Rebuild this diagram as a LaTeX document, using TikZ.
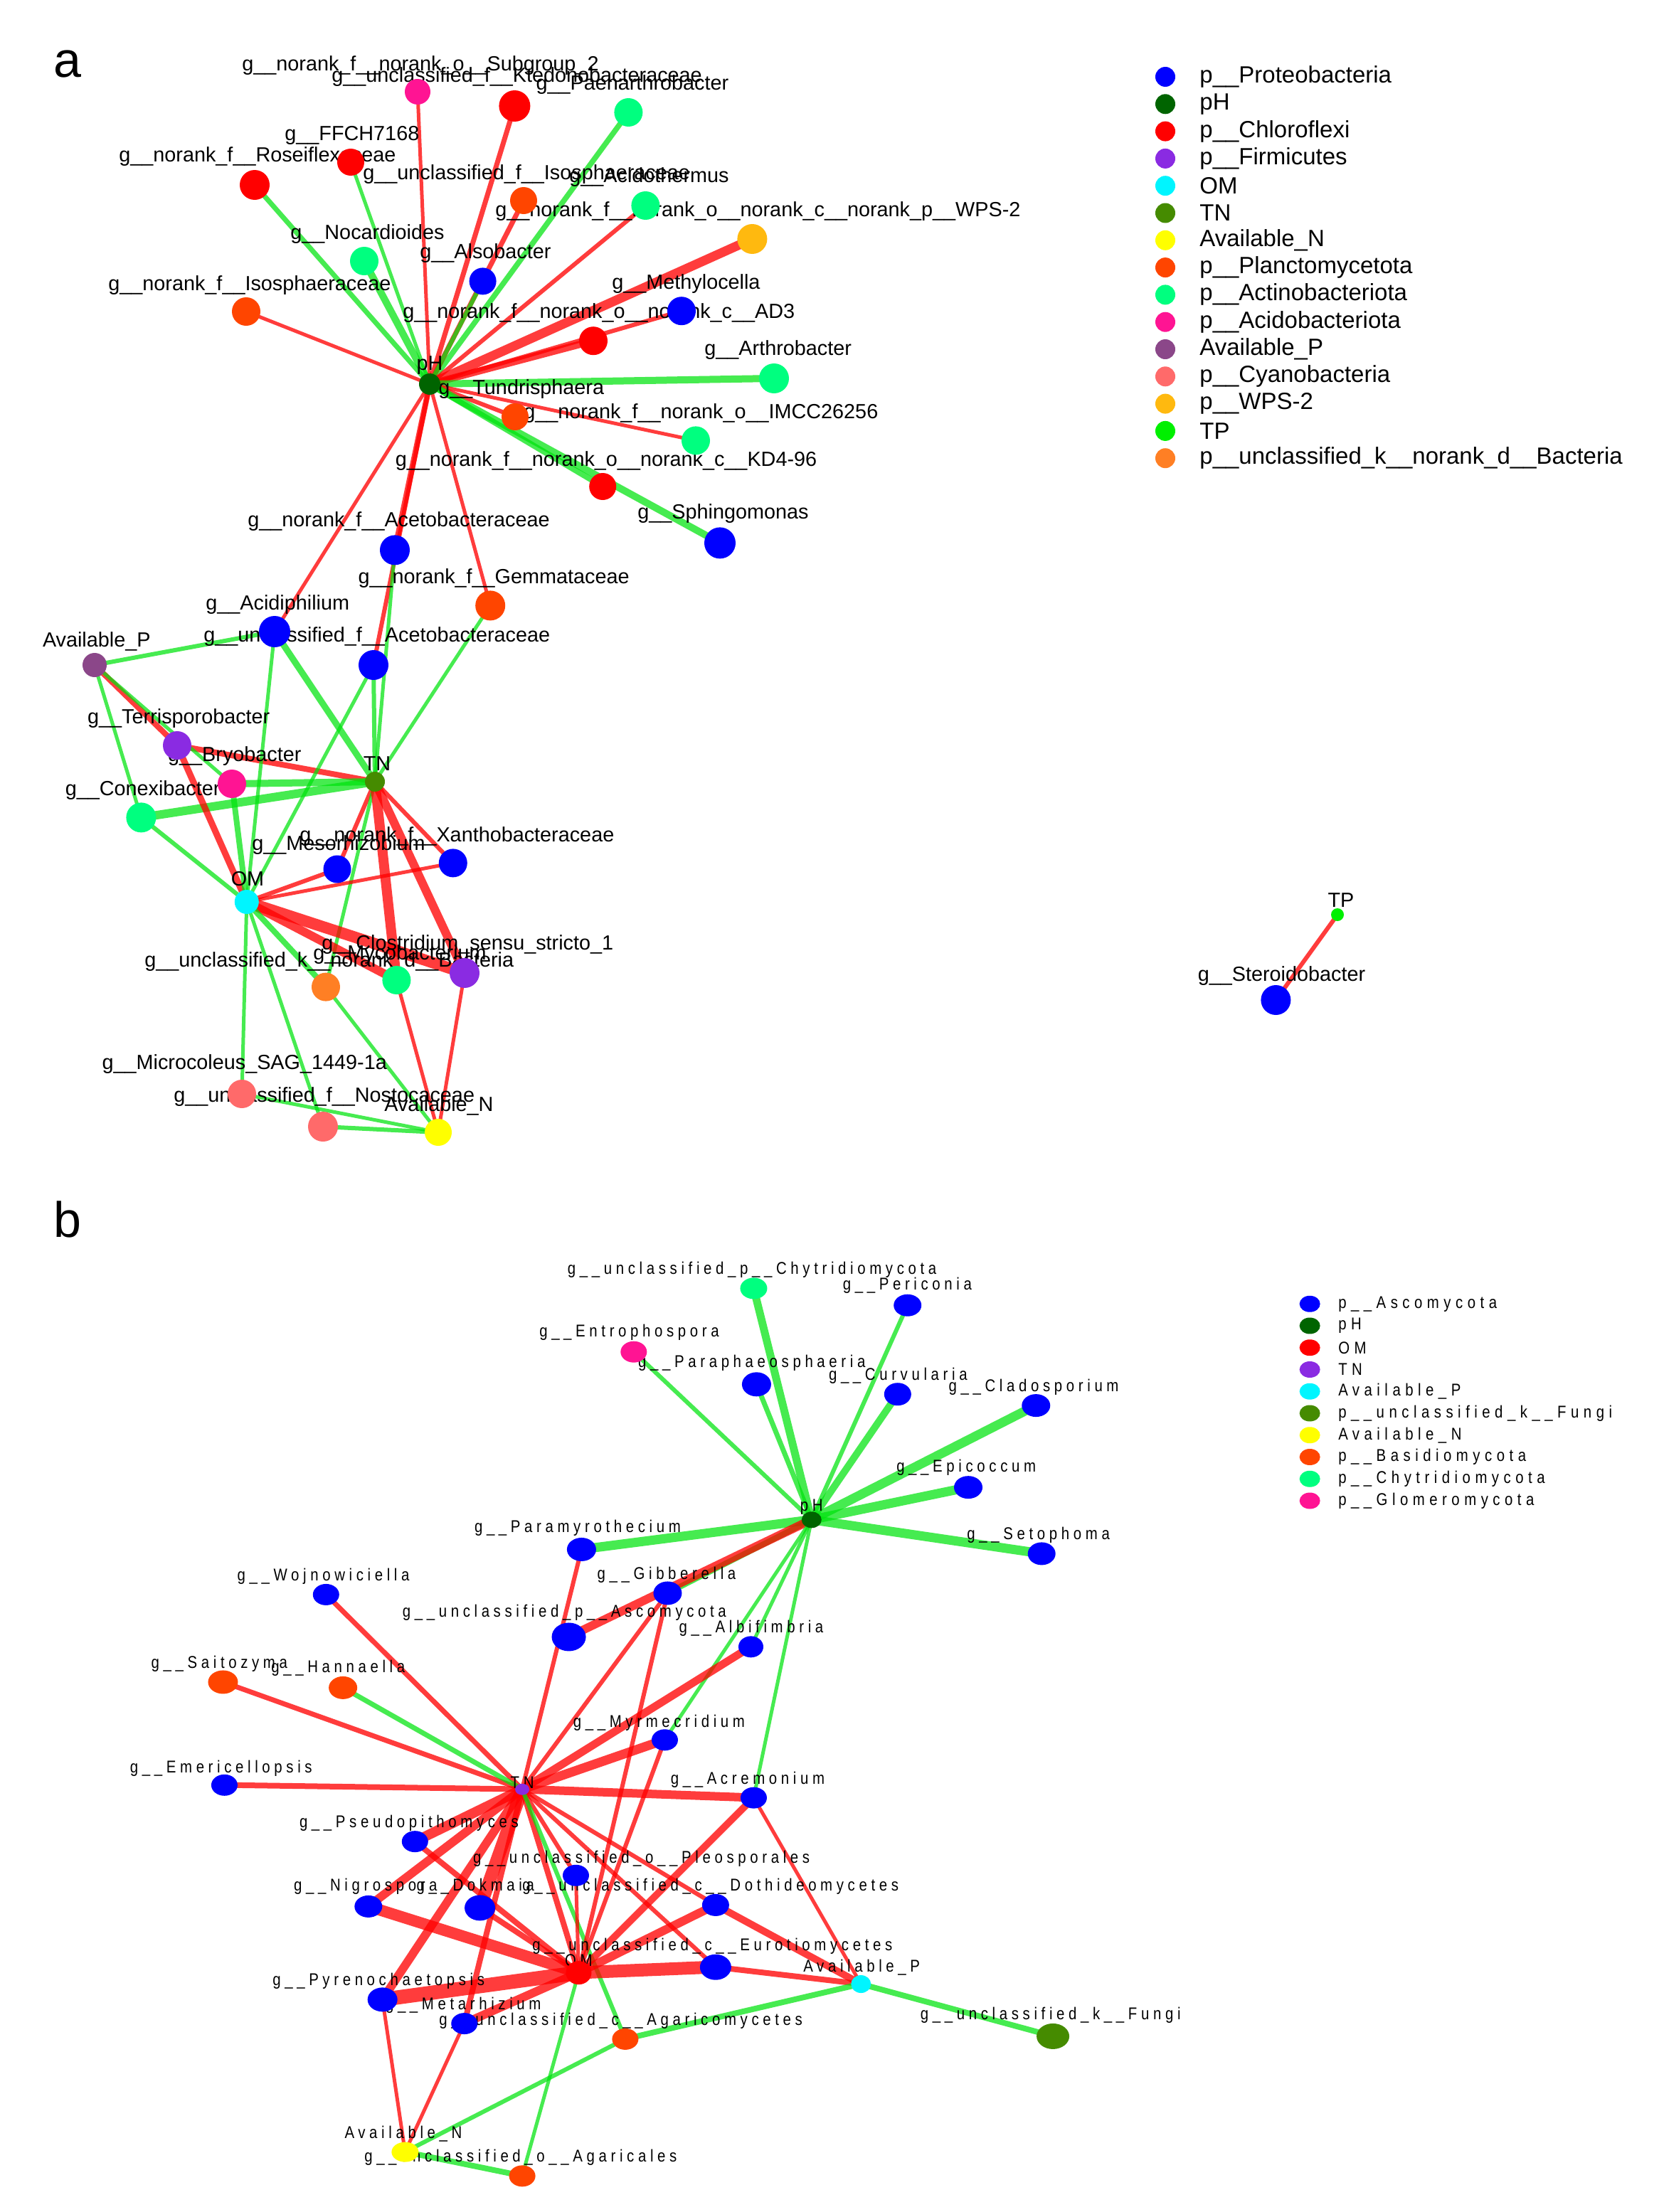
\documentclass[tikz,border=0pt]{standalone}
\usepackage{fontspec}
\setmainfont{Liberation Sans}
\newfontfamily\bfont[LetterSpace=23.5,FakeStretch=0.85]{Liberation Sans}
\newfontfamily\blegfont[LetterSpace=27,FakeStretch=0.85]{Liberation Sans}
\usetikzlibrary{shapes.geometric}
\pgfdeclarelayer{bg}\pgfdeclarelayer{fg}\pgfsetlayers{bg,main,fg}
\definecolor{cProt}{RGB}{0,0,255}
\definecolor{cpH}{RGB}{0,100,0}
\definecolor{cChlo}{RGB}{255,0,0}
\definecolor{cFirm}{RGB}{138,43,226}
\definecolor{cOM}{RGB}{0,245,255}
\definecolor{cTN}{RGB}{69,139,0}
\definecolor{cAvN}{RGB}{255,255,0}
\definecolor{cPlan}{RGB}{255,69,0}
\definecolor{cActi}{RGB}{0,255,127}
\definecolor{cAcido}{RGB}{255,20,147}
\definecolor{cAvP}{RGB}{139,71,137}
\definecolor{cCyan}{RGB}{255,106,106}
\definecolor{cWPS}{RGB}{255,185,15}
\definecolor{cTP}{RGB}{0,240,0}
\definecolor{cUBac}{RGB}{255,127,36}
\definecolor{eR}{RGB}{255,0,0}
\definecolor{eG}{RGB}{0,228,14}
\begin{document}
\catcode`\_=12
\begin{tikzpicture}[x=1pt,y=-1pt,
  nd/.style={circle,inner sep=0pt,minimum size=#1},
  eln/.style 2 args={ellipse,inner sep=0pt,minimum width=#1,minimum height=#2},
  lab/.style={anchor=west,inner sep=0pt,font=\fontsize{14.4}{16}\selectfont},
  labc/.style={anchor=center,inner sep=0pt,font=\fontsize{14.4}{16}\selectfont},
  blab/.style={anchor=west,inner sep=0pt,font=\bfont\fontsize{12}{14}\selectfont},
  blabc/.style={anchor=center,inner sep=0pt,font=\bfont\fontsize{12}{14}\selectfont},
  leg/.style={anchor=west,inner sep=0pt,font=\fontsize{16.5}{18}\selectfont},
  bleg/.style={anchor=west,inner sep=0pt,font=\blegfont\fontsize{12}{14}\selectfont},
  panel/.style={anchor=center,inner sep=0pt,font=\fontsize{35}{40}\selectfont},
  redE/.style={draw=eR,draw opacity=0.765,line width=#1},
  grnE/.style={draw=eG,draw opacity=0.725,line width=#1},
]
\useasboundingbox (0,0) rectangle (1165.5,1555);
\begin{pgfonlayer}{bg}
\fill[white] (0,0) rectangle (1165.5,1555);
\end{pgfonlayer}

%================ PANEL A =================
\node[panel] (la) at (47.6,45) {a};

\begin{pgfonlayer}{fg}
\node[nd=18pt,fill=cAcido] (Sub2) at (293.5,64.5) {};
\node[nd=22pt,fill=cChlo] (Kted) at (361.7,74.5) {};
\node[nd=20pt,fill=cActi] (Paen) at (441.7,79) {};
\node[nd=19pt,fill=cChlo] (FFCH) at (246.5,114) {};
\node[nd=21pt,fill=cChlo] (Rose) at (179,130) {};
\node[nd=19pt,fill=cPlan] (UIso) at (368,141) {};
\node[nd=20pt,fill=cActi] (Acit) at (453.7,144.5) {};
\node[nd=21pt,fill=cWPS] (WPS) at (528.7,168) {};
\node[nd=20pt,fill=cActi] (Noca) at (256,183.5) {};
\node[nd=19pt,fill=cProt] (Also) at (339.3,197.7) {};
\node[nd=20pt,fill=cPlan] (NIso) at (173,219) {};
\node[nd=20pt,fill=cProt] (Meth) at (479,218.6) {};
\node[nd=20pt,fill=cChlo] (AD3) at (417,239.6) {};
\node[nd=21pt,fill=cActi] (Arth) at (544,266) {};
\node[nd=15pt,fill=cpH] (pH) at (302,270) {};
\node[nd=19pt,fill=cPlan] (Tund) at (362,293) {};
\node[nd=20pt,fill=cActi] (IMCC) at (489,309.7) {};
\node[nd=19pt,fill=cChlo] (KD4) at (423.6,342) {};
\node[nd=22pt,fill=cProt] (Sphi) at (506,381.7) {};
\node[nd=21pt,fill=cProt] (NAce) at (277.5,386.7) {};
\node[nd=21pt,fill=cPlan] (Gemm) at (344.6,425.7) {};
\node[nd=22pt,fill=cProt] (Acid) at (193,444) {};
\node[nd=21pt,fill=cProt] (UAce) at (262.5,467.5) {};
\node[nd=17pt,fill=cAvP] (AvP) at (66.5,467.5) {};
\node[nd=20pt,fill=cFirm] (Terr) at (124.5,524) {};
\node[nd=20pt,fill=cAcido] (Bryo) at (163,551) {};
\node[nd=14pt,fill=cTN] (TN) at (263.5,549.5) {};
\node[nd=21pt,fill=cActi] (Conx) at (99.2,574.7) {};
\node[nd=19.5pt,fill=cProt] (Meso) at (237,611) {};
\node[nd=20pt,fill=cProt] (Xant) at (318.4,606.7) {};
\node[nd=17pt,fill=cOM] (OM) at (173.4,634) {};
\node[nd=21pt,fill=cFirm] (Clos) at (326.5,684) {};
\node[nd=20pt,fill=cActi] (Myco) at (278.7,689) {};
\node[nd=20pt,fill=cUBac] (UBac) at (229,693.8) {};
\node[nd=20pt,fill=cCyan] (Micr) at (170,769) {};
\node[nd=21pt,fill=cCyan] (Nost) at (227,792) {};
\node[nd=19pt,fill=cAvN] (AvN) at (308,796) {};
\node[nd=9pt,fill=cTP] (TP) at (940,643) {};
\node[nd=21pt,fill=cProt] (Ster) at (896.7,703) {};
\end{pgfonlayer}

\node[lab] (Sub2-l) at (170,46) {g__norank_f__norank_o__Subgroup_2};
\node[lab] (Kted-l) at (233,54) {g__unclassified_f__Ktedonobacteraceae};
\node[lab] (Paen-l) at (376.6,59.3) {g__Paenarthrobacter};
\node[lab] (FFCH-l) at (200,95) {g__FFCH7168};
\node[lab] (Rose-l) at (83.5,110) {g__norank_f__Roseiflexaceae};
\node[lab] (UIso-l) at (255,122.5) {g__unclassified_f__Isosphaeraceae};
\node[lab] (Acit-l) at (400,124.5) {g__Acidothermus};
\node[lab] (WPS-l) at (348,148.6) {g__norank_f__norank_o__norank_c__norank_p__WPS-2};
\node[lab] (Noca-l) at (204,164.6) {g__Nocardioides};
\node[lab] (Also-l) at (295,178) {g__Alsobacter};
\node[lab] (NIso-l) at (76,200.5) {g__norank_f__Isosphaeraceae};
\node[lab] (Meth-l) at (430,199.5) {g__Methylocella};
\node[lab] (AD3-l) at (283,220) {g__norank_f__norank_o__norank_c__AD3};
\node[lab] (Arth-l) at (495,246) {g__Arthrobacter};
\node[labc] (pH-l) at (302,257) {pH};
\node[lab] (Tund-l) at (308,273.6) {g__Tundrisphaera};
\node[lab] (IMCC-l) at (368,290.5) {g__norank_f__norank_o__IMCC26256};
\node[lab] (KD4-l) at (277.7,324) {g__norank_f__norank_o__norank_c__KD4-96};
\node[lab] (Sphi-l) at (448,361) {g__Sphingomonas};
\node[lab] (NAce-l) at (174,366.7) {g__norank_f__Acetobacteraceae};
\node[lab] (Gemm-l) at (251.6,406.7) {g__norank_f__Gemmataceae};
\node[lab] (Acid-l) at (144.5,425) {g__Acidiphilium};
\node[lab] (UAce-l) at (143,447.5) {g__unclassified_f__Acetobacteraceae};
\node[lab] (AvP-l) at (29.8,450.8) {Available_P};
\node[lab] (Terr-l) at (61.4,505) {g__Terrisporobacter};
\node[lab] (Bryo-l) at (117.9,531.7) {g__Bryobacter};
\node[labc] (TN-l) at (265,537) {TN};
\node[lab] (Conx-l) at (45.7,555.5) {g__Conexibacter};
\node[lab] (Meso-l) at (177,594) {g__Mesorhizobium};
\node[lab] (Xant-l) at (210.5,588) {g__norank_f__Xanthobacteraceae};
\node[labc] (OM-l) at (174,618) {OM};
\node[lab] (Clos-l) at (226,664) {g__Clostridium_sensu_stricto_1};
\node[lab] (Myco-l) at (220,671) {g__Mycobacterium};
\node[lab] (UBac-l) at (101.5,676) {g__unclassified_k__norank_d__Bacteria};
\node[lab] (Micr-l) at (71.6,748) {g__Microcoleus_SAG_1449-1a};
\node[lab] (Nost-l) at (122,771) {g__unclassified_f__Nostocaceae};
\node[lab] (AvN-l) at (270,777.5) {Available_N};
\node[labc] (TP-l) at (942.5,633) {TP};
\node[lab] (Ster-l) at (841.7,686) {g__Steroidobacter};

\begin{pgfonlayer}{bg}
\draw[redE=2.5] (pH.center) -- (Sub2.center);
\draw[redE=3.5] (pH.center) -- (Kted.center);
\draw[grnE=3.8] (pH.center) -- (Paen.center);
\draw[grnE=2.5] (pH.center) -- (FFCH.center);
\draw[grnE=3.5] (pH.center) -- (Rose.center);
\draw[redE=3.5] (pH.center) -- (UIso.center);
\draw[grnE=3] (pH.center) -- (Also.center);
\draw[redE=3] (pH.center) -- (Acit.center);
\draw[redE=6.5] (pH.center) -- (WPS.center);
\draw[grnE=5] (pH.center) -- (Noca.center);
\draw[redE=2.5] (pH.center) -- (NIso.center);
\draw[redE=3] (pH.center) -- (Meth.center);
\draw[redE=5] (pH.center) -- (AD3.center);
\draw[grnE=5] (pH.center) -- (Arth.center);
\draw[redE=3] (pH.center) -- (Tund.center);
\draw[redE=2.5] (pH.center) -- (IMCC.center);
\draw[grnE=4] (pH.center) -- (KD4.center);
\draw[grnE=5] (pH.center) -- (Sphi.center);
\draw[redE=4] (pH.center) -- (NAce.center);
\draw[redE=3] (pH.center) -- (UAce.center);
\draw[redE=2.5] (pH.center) -- (Gemm.center);
\draw[redE=2.5] (pH.center) -- (Acid.center);
\draw[grnE=2.5] (NAce.center) -- (TN.center);
\draw[grnE=3] (UAce.center) -- (TN.center);
\draw[grnE=2.5] (Gemm.center) -- (TN.center);
\draw[grnE=4.5] (Acid.center) -- (TN.center);
\draw[redE=4] (Terr.center) -- (TN.center);
\draw[grnE=5] (Bryo.center) -- (TN.center);
\draw[grnE=6] (Conx.center) -- (TN.center);
\draw[redE=3] (TN.center) -- (Meso.center);
\draw[redE=3] (TN.center) -- (Xant.center);
\draw[grnE=2.5] (TN.center) -- (UBac.center);
\draw[redE=7] (TN.center) -- (Myco.center);
\draw[redE=6] (TN.center) -- (Clos.center);
\draw[grnE=3] (AvP.center) -- (Acid.center);
\draw[redE=4] (AvP.center) -- (Terr.center);
\draw[grnE=2.5] (AvP.center) -- (Bryo.center);
\draw[grnE=2.5] (AvP.center) -- (Conx.center);
\draw[redE=4.5] (Terr.center) -- (OM.center);
\draw[grnE=4] (Bryo.center) -- (OM.center);
\draw[grnE=2.5] (Acid.center) -- (OM.center);
\draw[grnE=2.5] (UAce.center) -- (OM.center);
\draw[grnE=3] (Conx.center) -- (OM.center);
\draw[redE=3] (OM.center) -- (Meso.center);
\draw[redE=2.5] (OM.center) -- (Xant.center);
\draw[redE=8] (OM.center) -- (Clos.center);
\draw[redE=6] (OM.center) -- (Myco.center);
\draw[grnE=4] (OM.center) -- (UBac.center);
\draw[grnE=2.5] (OM.center) -- (Micr.center);
\draw[grnE=2.5] (OM.center) -- (Nost.center);
\draw[grnE=2.5] (UBac.center) -- (AvN.center);
\draw[redE=2.5] (Myco.center) -- (AvN.center);
\draw[redE=2.5] (Clos.center) -- (AvN.center);
\draw[grnE=2.5] (Micr.center) -- (AvN.center);
\draw[grnE=3] (Nost.center) -- (AvN.center);
\draw[redE=3] (TP.center) -- (Ster.center);
\end{pgfonlayer}

% legend a
\begin{pgfonlayer}{fg}
\node[nd=14pt,fill=cProt]  (La1)  at (819,54) {};
\node[nd=14pt,fill=cpH]    (La2)  at (819,73.15) {};
\node[nd=14pt,fill=cChlo]  (La3)  at (819,92.3) {};
\node[nd=14pt,fill=cFirm]  (La4)  at (819,111.45) {};
\node[nd=14pt,fill=cOM]    (La5)  at (819,130.6) {};
\node[nd=14pt,fill=cTN]    (La6)  at (819,149.75) {};
\node[nd=14pt,fill=cAvN]   (La7)  at (819,168.9) {};
\node[nd=14pt,fill=cPlan]  (La8)  at (819,188.05) {};
\node[nd=14pt,fill=cActi]  (La9)  at (819,207.2) {};
\node[nd=14pt,fill=cAcido] (La10) at (819,226.35) {};
\node[nd=14pt,fill=cAvP]   (La11) at (819,245.5) {};
\node[nd=14pt,fill=cCyan]  (La12) at (819,264.65) {};
\node[nd=14pt,fill=cWPS]   (La13) at (819,283.8) {};
\node[nd=14pt,fill=cTP]    (La14) at (819,302.95) {};
\node[nd=14pt,fill=cUBac]  (La15) at (819,322.1) {};
\end{pgfonlayer}
\node[leg] (La1t)  at (843,54) {p__Proteobacteria};
\node[leg] (La2t)  at (843,73.15) {pH};
\node[leg] (La3t)  at (843,92.3) {p__Chloroflexi};
\node[leg] (La4t)  at (843,111.45) {p__Firmicutes};
\node[leg] (La5t)  at (843,130.6) {OM};
\node[leg] (La6t)  at (843,149.75) {TN};
\node[leg] (La7t)  at (843,168.9) {Available_N};
\node[leg] (La8t)  at (843,188.05) {p__Planctomycetota};
\node[leg] (La9t)  at (843,207.2) {p__Actinobacteriota};
\node[leg] (La10t) at (843,226.35) {p__Acidobacteriota};
\node[leg] (La11t) at (843,245.5) {Available_P};
\node[leg] (La12t) at (843,264.65) {p__Cyanobacteria};
\node[leg] (La13t) at (843,283.8) {p__WPS-2};
\node[leg] (La14t) at (843,302.95) {TP};
\node[leg] (La15t) at (843,322.1) {p__unclassified_k__norank_d__Bacteria};

%================ PANEL B =================
\begin{scope}[xscale=0.992,yscale=0.992]
\node[panel] (lb) at (48,864) {b};
\begin{pgfonlayer}{fg}
\node[eln={14pt}{11.5pt},fill=cpH] (bpH) at (575,1077) {};
\node[eln={19pt}{15pt},fill=cActi] (Chyt) at (534,913) {};
\node[eln={19.5pt}{15.5pt},fill=cProt] (Peri) at (643,925) {};
\node[eln={18.5pt}{15pt},fill=cAcido] (Entr) at (449,958) {};
\node[eln={20.5pt}{17pt},fill=cProt] (Para) at (536,981) {};
\node[eln={19pt}{16pt},fill=cProt] (Curv) at (636,988) {};
\node[eln={20pt}{16pt},fill=cProt] (Clad) at (734,996) {};
\node[eln={20pt}{16pt},fill=cProt] (Epic) at (686,1054) {};
\node[eln={19.5pt}{16pt},fill=cProt] (Seto) at (738,1101) {};
\node[eln={20.5pt}{16.5pt},fill=cProt] (Pmyr) at (412,1098) {};
\node[eln={20pt}{16.5pt},fill=cProt] (Gibb) at (473,1129) {};
\node[eln={18.5pt}{15pt},fill=cProt] (Wojn) at (231,1130) {};
\node[eln={24pt}{20pt},fill=cProt] (UAsc) at (403,1160) {};
\node[eln={17.5pt}{15pt},fill=cProt] (Albi) at (532,1167) {};
\node[eln={21pt}{16.5pt},fill=cPlan] (Sait) at (158,1192) {};
\node[eln={20pt}{16pt},fill=cPlan] (Hann) at (243,1196) {};
\node[eln={18.5pt}{15pt},fill=cProt] (Myrm) at (471,1233) {};
\node[eln={18.5pt}{15pt},fill=cProt] (Emer) at (159,1265) {};
\node[eln={10pt}{8pt},fill=cFirm] (bTN) at (370,1268) {};
\node[eln={18.5pt}{15pt},fill=cProt] (Acre) at (534,1274) {};
\node[eln={18.5pt}{15pt},fill=cProt] (Pseu) at (294,1305) {};
\node[eln={18.5pt}{15pt},fill=cProt] (Pleo) at (408,1329) {};
\node[eln={19.5pt}{15.5pt},fill=cProt] (Nigr) at (261,1351) {};
\node[eln={21.5pt}{18pt},fill=cProt] (Dokm) at (340,1352) {};
\node[eln={19pt}{15.5pt},fill=cProt] (Doth) at (507,1350) {};
\node[eln={18pt}{16.5pt},fill=cChlo] (bOM) at (410,1398) {};
\node[eln={22pt}{18pt},fill=cProt] (Euro) at (507,1394) {};
\node[eln={14pt}{12.5pt},fill=cOM] (bAvP) at (610,1406) {};
\node[eln={21pt}{17pt},fill=cProt] (Pyre) at (271,1417) {};
\node[eln={18.5pt}{15pt},fill=cProt] (Meta) at (329,1434) {};
\node[eln={18.5pt}{15pt},fill=cPlan] (Agcm) at (443,1445) {};
\node[eln={23pt}{18pt},fill=cTN] (Fung) at (746,1443) {};
\node[eln={19pt}{14pt},fill=cAvN] (bAvN) at (287,1525) {};
\node[eln={18.5pt}{15pt},fill=cPlan] (Agrl) at (370,1542) {};
\end{pgfonlayer}

\node[blabc] (bpH-l) at (575,1068) {pH};
\node[blab] (Chyt-l) at (402,900) {g__unclassified_p__Chytridiomycota};
\node[blab] (Peri-l) at (597,911) {g__Periconia};
\node[blab] (Entr-l) at (382,944) {g__Entrophospora};
\node[blab] (Para-l) at (452,966) {g__Paraphaeosphaeria};
\node[blab] (Curv-l) at (587,975) {g__Curvularia};
\node[blab] (Clad-l) at (672,983) {g__Cladosporium};
\node[blab] (Epic-l) at (635,1040) {g__Epicoccum};
\node[blab] (Seto-l) at (685,1088) {g__Setophoma};
\node[blab] (Pmyr-l) at (336,1083) {g__Paramyrothecium};
\node[blab] (Gibb-l) at (423,1116) {g__Gibberella};
\node[blab] (Wojn-l) at (168,1117) {g__Wojnowiciella};
\node[blab] (UAsc-l) at (285,1143) {g__unclassified_p__Ascomycota};
\node[blab] (Albi-l) at (481,1154) {g__Albifimbria};
\node[blab] (Sait-l) at (107,1179) {g__Saitozyma};
\node[blab] (Hann-l) at (192,1182) {g__Hannaella};
\node[blab] (Myrm-l) at (406,1221) {g__Myrmecridium};
\node[blab] (Emer-l) at (92,1253) {g__Emericellopsis};
\node[blabc] (bTN-l) at (370,1263) {TN};
\node[blab] (Acre-l) at (475,1261) {g__Acremonium};
\node[blab] (Pseu-l) at (212,1292) {g__Pseudopithomyces};
\node[blab] (Pleo-l) at (335,1317) {g__unclassified_o__Pleosporales};
\node[blab] (Nigr-l) at (208,1337) {g__Nigrospora};
\node[blab] (Dokm-l) at (295,1337) {g__Dokmaia};
\node[blab] (Doth-l) at (370,1337) {g__unclassified_c__Dothideomycetes};
\node[blabc] (bOM-l) at (410,1389) {OM};
\node[blab] (Euro-l) at (377,1379) {g__unclassified_c__Eurotiomycetes};
\node[blab] (bAvP-l) at (569,1394) {Available_P};
\node[blab] (Pyre-l) at (193,1404) {g__Pyrenochaetopsis};
\node[blab] (Meta-l) at (273,1421) {g__Metarhizium};
\node[blab] (Agcm-l) at (311,1432) {g__unclassified_c__Agaricomycetes};
\node[blab] (Fung-l) at (652,1428) {g__unclassified_k__Fungi};
\node[blab] (bAvN-l) at (244,1512) {Available_N};
\node[blab] (Agrl-l) at (258,1529) {g__unclassified_o__Agaricales};

\begin{pgfonlayer}{bg}
\draw[grnE=5.5] (bpH.center) -- (Chyt.center);
\draw[grnE=3] (bpH.center) -- (Peri.center);
\draw[grnE=3] (bpH.center) -- (Entr.center);
\draw[grnE=3.5] (bpH.center) -- (Para.center);
\draw[grnE=5] (bpH.center) -- (Curv.center);
\draw[grnE=6.5] (bpH.center) -- (Clad.center);
\draw[grnE=6.5] (bpH.center) -- (Epic.center);
\draw[grnE=6.5] (bpH.center) -- (Seto.center);
\draw[grnE=6.5] (bpH.center) -- (Pmyr.center);
\draw[grnE=4] (bpH.center) -- (Gibb.center);
\draw[redE=6] (bpH.center) -- (UAsc.center);
\draw[grnE=2.5] (bpH.center) -- (Albi.center);
\draw[grnE=2.5] (bpH.center) -- (Myrm.center);
\draw[grnE=2.5] (bpH.center) -- (Acre.center);
\draw[redE=3.5] (bTN.center) -- (Wojn.center);
\draw[redE=3.5] (bTN.center) -- (Sait.center);
\draw[grnE=3.5] (bTN.center) -- (Hann.center);
\draw[redE=4] (bTN.center) -- (Emer.center);
\draw[redE=3] (bTN.center) -- (Pmyr.center);
\draw[redE=3] (bTN.center) -- (Gibb.center);
\draw[redE=5.5] (bTN.center) -- (Albi.center);
\draw[redE=6.5] (bTN.center) -- (Myrm.center);
\draw[redE=6] (bTN.center) -- (Acre.center);
\draw[redE=7] (bTN.center) -- (Pseu.center);
\draw[redE=6] (bTN.center) -- (Nigr.center);
\draw[redE=9] (bTN.center) -- (Dokm.center);
\draw[redE=6] (bTN.center) -- (Pyre.center);
\draw[redE=4] (bTN.center) -- (Meta.center);
\draw[redE=4] (bTN.center) -- (bOM.center);
\draw[redE=3] (bTN.center) -- (Doth.center);
\draw[redE=3] (bTN.center) -- (Euro.center);
\draw[redE=3] (bTN.center) -- (Pleo.center);
\draw[grnE=3] (bTN.center) -- (Agcm.center);
\draw[redE=8] (bOM.center) -- (Nigr.center);
\draw[redE=10] (bOM.center) -- (Pyre.center);
\draw[redE=9] (bOM.center) -- (Euro.center);
\draw[redE=6] (bOM.center) -- (Doth.center);
\draw[redE=6] (bOM.center) -- (Meta.center);
\draw[redE=4] (bOM.center) -- (Dokm.center);
\draw[redE=2.5] (bOM.center) -- (Pleo.center);
\draw[redE=4] (bOM.center) -- (Pseu.center);
\draw[redE=5] (bOM.center) -- (Acre.center);
\draw[redE=3] (bOM.center) -- (Myrm.center);
\draw[redE=3] (bOM.center) -- (Gibb.center);
\draw[grnE=2.5] (bOM.center) -- (Agrl.center);
\draw[redE=5] (Doth.center) -- (bAvP.center);
\draw[redE=4] (Euro.center) -- (bAvP.center);
\draw[redE=2.5] (Acre.center) -- (bAvP.center);
\draw[grnE=4] (bAvP.center) -- (Agcm.center);
\draw[grnE=4] (bAvP.center) -- (Fung.center);
\draw[grnE=3] (Agcm.center) -- (bAvN.center);
\draw[grnE=4] (bAvN.center) -- (Agrl.center);
\draw[redE=2.5] (Pyre.center) -- (bAvN.center);
\draw[redE=2.5] (Meta.center) -- (bAvN.center);
\end{pgfonlayer}

% legend b
\begin{pgfonlayer}{fg}
\node[eln={14.5pt}{11.5pt},fill=cProt]  (Lb1)  at (928,924) {};
\node[eln={14.5pt}{11.5pt},fill=cpH]    (Lb2)  at (928,939.5) {};
\node[eln={14.5pt}{11.5pt},fill=cChlo]  (Lb3)  at (928,955) {};
\node[eln={14.5pt}{11.5pt},fill=cFirm]  (Lb4)  at (928,970.5) {};
\node[eln={14.5pt}{11.5pt},fill=cOM]    (Lb5)  at (928,986) {};
\node[eln={14.5pt}{11.5pt},fill=cTN]    (Lb6)  at (928,1001.5) {};
\node[eln={14.5pt}{11.5pt},fill=cAvN]   (Lb7)  at (928,1017) {};
\node[eln={14.5pt}{11.5pt},fill=cPlan]  (Lb8)  at (928,1032.5) {};
\node[eln={14.5pt}{11.5pt},fill=cActi]  (Lb9)  at (928,1048) {};
\node[eln={14.5pt}{11.5pt},fill=cAcido] (Lb10) at (928,1063.5) {};
\end{pgfonlayer}
\node[bleg] (Lb1t)  at (948,924) {p__Ascomycota};
\node[bleg] (Lb2t)  at (948,939.5) {pH};
\node[bleg] (Lb3t)  at (948,955) {OM};
\node[bleg] (Lb4t)  at (948,970.5) {TN};
\node[bleg] (Lb5t)  at (948,986) {Available_P};
\node[bleg] (Lb6t)  at (948,1001.5) {p__unclassified_k__Fungi};
\node[bleg] (Lb7t)  at (948,1017) {Available_N};
\node[bleg] (Lb8t)  at (948,1032.5) {p__Basidiomycota};
\node[bleg] (Lb9t)  at (948,1048) {p__Chytridiomycota};
\node[bleg] (Lb10t) at (948,1063.5) {p__Glomeromycota};
\end{scope}
\end{tikzpicture}
\end{document}
